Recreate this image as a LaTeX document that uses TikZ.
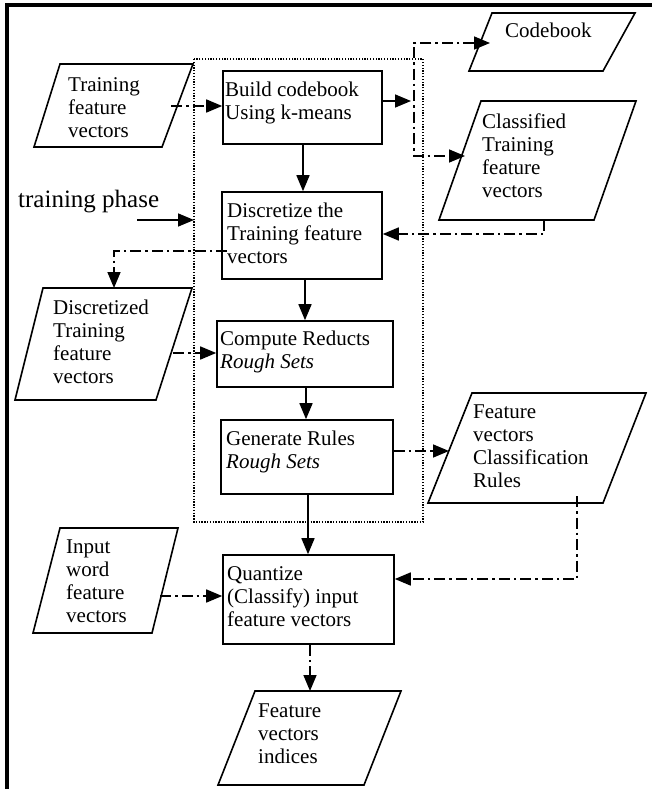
\documentclass[tikz,border=0pt]{standalone}
\usepackage{fontspec}
\setmainfont{Liberation Serif}
\usetikzlibrary{arrows.meta}
\begin{document}
\begin{tikzpicture}[x=1pt,y=-1pt,
  lw/.style={line width=1.6pt},
  procbox/.style={draw,lw,rectangle,inner sep=0pt},
  shp/.style={draw,lw,line join=miter},
  txt/.style={inner sep=0pt,anchor=base west,align=left,font=\fontsize{21}{23}\selectfont},
  tip/.style={-{Triangle[length=16pt,width=13pt]}},
  solidarrow/.style={lw,tip},
  dd/.style={lw,dash pattern=on 11pt off 4pt on 2.5pt off 4pt},
  ddarrow/.style={dd,tip},
  dots/.style={line width=1.2pt,dash pattern=on 1.3pt off 1.5pt}
]
\useasboundingbox (0,0) rectangle (651,789);
% frame
\draw[line width=4pt] (7,791) -- (7,5.5) -- (653,5.5);
% training phase dotted region
\draw[dots] (194,59) rectangle (423,522);
% process boxes
\node[procbox,minimum width=159pt,minimum height=73pt] (build) at (302.5,107.5) {};
\node[procbox,minimum width=160pt,minimum height=87pt] (disc) at (302,235.5) {};
\node[procbox,minimum width=176pt,minimum height=66pt] (comp) at (305,354) {};
\node[procbox,minimum width=172pt,minimum height=74pt] (gen) at (307,457) {};
\node[procbox,minimum width=171pt,minimum height=89pt] (quant) at (308.5,599.5) {};
% parallelograms (data)
\draw[shp] (60,64) coordinate (tfv-tl) -- (193,64) coordinate (tfv-tr) -- (162,147) coordinate (tfv-br) -- (34,147) coordinate (tfv-bl) -- cycle;
\draw[shp] (492,13) coordinate (cb-tl) -- (635,13) coordinate (cb-tr) -- (603,71) coordinate (cb-br) -- (469,71) coordinate (cb-bl) -- cycle;
\draw[shp] (481,101) coordinate (ctf-tl) -- (636,101) coordinate (ctf-tr) -- (594,220) coordinate (ctf-br) -- (439,220) coordinate (ctf-bl) -- cycle;
\draw[shp] (43,288) coordinate (dtf-tl) -- (192,288) coordinate (dtf-tr) -- (156,400) coordinate (dtf-br) -- (15,400) coordinate (dtf-bl) -- cycle;
\draw[shp] (472,393) coordinate (fcr-tl) -- (646,393) coordinate (fcr-tr) -- (603,503) coordinate (fcr-br) -- (428,503) coordinate (fcr-bl) -- cycle;
\draw[shp] (60,528) coordinate (iw-tl) -- (178,528) coordinate (iw-tr) -- (152,633) coordinate (iw-br) -- (33,633) coordinate (iw-bl) -- cycle;
\draw[shp] (255,691) coordinate (fvi-tl) -- (401,691) coordinate (fvi-tr) -- (364,785) coordinate (fvi-br) -- (218,785) coordinate (fvi-bl) -- cycle;
% texts (anchored at the baseline of the last line)
\node[txt] (tfv) at (68,137) {Training\\feature\\vectors};
\node[txt] (buildt) at (225,120) {Build codebook\\Using k-means};
\node[txt,font=\fontsize{25}{27}\selectfont] (phase) at (18,207) {training phase};
\node[txt] (disct) at (227,263) {Discretize the\\Training feature\\vectors};
\node[txt] (cb) at (505,38) {Codebook};
\node[txt] (ctf) at (482,197) {Classified\\Training\\feature\\vectors};
\node[txt] (dtf) at (53,383) {Discretized\\Training\\feature\\vectors};
\node[txt] (compt) at (220,368) {Compute Reducts\\\textit{Rough Sets}};
\node[txt] (gent) at (226,468) {Generate Rules\\\textit{Rough Sets}};
\node[txt] (fcr) at (473,487) {Feature\\vectors\\Classification\\Rules};
\node[txt] (iw) at (66,622) {Input\\word\\feature\\vectors};
\node[txt] (quantt) at (227,626) {Quantize\\(Classify) input\\feature vectors};
\node[txt] (fvi) at (258,763) {Feature\\vectors\\indices};
% connector end points
\coordinate (tfv-out) at (171,106);
\coordinate (busT) at (414,43);
\coordinate (busB) at (414,156);
\coordinate (bus-in) at (411,101);
\coordinate (ctf-out) at (544,220);
\coordinate (phase-out) at (137,220);
\coordinate (dotbox-l) at (194,220);
\coordinate (disc-out) at (227,251);
\coordinate (dtf-in) at (114,288);
\coordinate (dtf-out) at (173,353);
\coordinate (fcr-in) at (449,451);
\coordinate (fcr-out) at (577,496);
\coordinate (iw-out) at (160,596);
\coordinate (cb-in) at (490,43);
\coordinate (ctf-in) at (465,156);
% connectors
\draw[ddarrow] (tfv-out) -- (tfv-out -| build.west);
\draw[solidarrow] (build.south -| 303,0) -- (disc.north -| 303,0);
\draw[solidarrow] (build.east |- bus-in) -- (bus-in);
\draw[dd,{Triangle[length=16pt,width=13pt]}-{Triangle[length=16pt,width=13pt]}] (cb-in) -- (busT) -- (busB) -- (ctf-in);
\draw[ddarrow] (ctf-out) -- (544,234) -- (disc.east |- 0,234);
\draw[solidarrow] (phase-out) -- (dotbox-l);
\draw[ddarrow] (disc-out) -- (dtf-in |- disc-out) -- (dtf-in);
\draw[solidarrow] (disc.south -| 305,0) -- (comp.north -| 305,0);
\draw[ddarrow] (dtf-out) -- (dtf-out -| comp.west);
\draw[solidarrow] (comp.south -| 306,0) -- (gen.north -| 306,0);
\draw[ddarrow] (gen.east |- fcr-in) -- (fcr-in);
\draw[solidarrow] (gen.south -| 308,0) -- (quant.north -| 308,0);
\draw[ddarrow] (fcr-out) -- (fcr-out |- 0,579) -- (quant.east |- 0,579);
\draw[ddarrow] (iw-out) -- (iw-out -| quant.west);
\draw[ddarrow] (quant.south -| 310,0) -- (fvi-tl -| 310,0);
\end{tikzpicture}
\end{document}
